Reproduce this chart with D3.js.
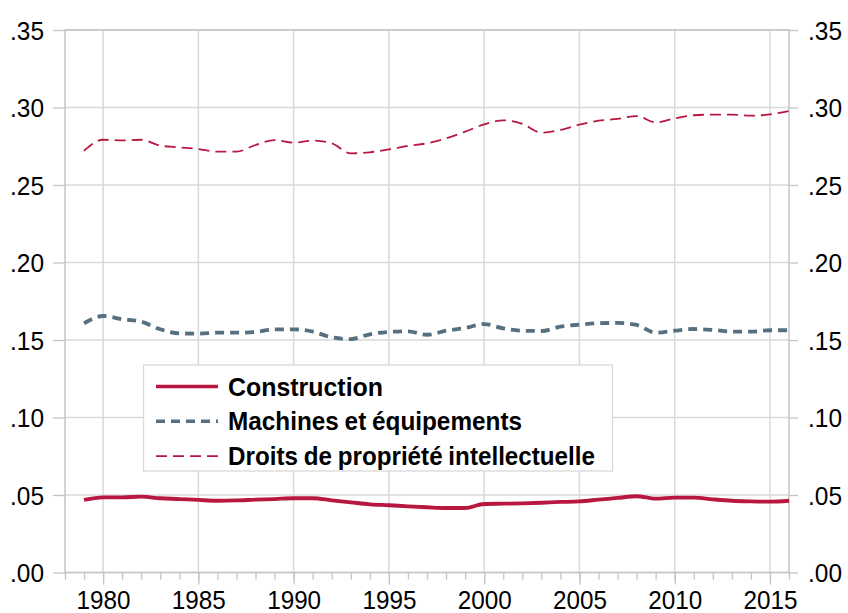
<!DOCTYPE html>
<html>
<head>
<meta charset="utf-8">
<script src="https://cdn.jsdelivr.net/npm/d3@7"></script>
<style>
  html, body { margin: 0; padding: 0; background: #fff; }
  svg { display: block; font-family: "Liberation Sans", Arial, sans-serif; }
</style>
</head>
<body>
<svg id="chart" width="848" height="613"></svg>
<script>
const years = d3.range(1979, 2017);
const construction = [0.0468,0.0485,0.0485,0.0489,0.0479,0.0474,0.0468,0.0463,0.0465,0.0470,
  0.0474,0.0479,0.0479,0.0466,0.0453,0.0440,0.0434,0.0427,0.0421,0.0416,
  0.0416,0.0442,0.0444,0.0446,0.0450,0.0455,0.0459,0.0470,0.0481,0.0492,
  0.0476,0.0483,0.0483,0.0472,0.0463,0.0459,0.0457,0.0463];
const machines = [0.1608,0.1655,0.1634,0.1618,0.1569,0.1543,0.1541,0.1547,0.1547,0.1552,
  0.1569,0.1569,0.1554,0.1517,0.1506,0.1537,0.1552,0.1556,0.1534,0.1560,
  0.1577,0.1603,0.1575,0.1560,0.1558,0.1586,0.1599,0.1608,0.1610,0.1597,
  0.1547,0.1560,0.1571,0.1565,0.1554,0.1554,0.1563,0.1563];
const droits = [0.2721,0.2792,0.2788,0.2792,0.2754,0.2743,0.2732,0.2715,0.2715,0.2758,
  0.2790,0.2773,0.2786,0.2769,0.2704,0.2711,0.2730,0.2752,0.2769,0.2801,
  0.2844,0.2891,0.2917,0.2894,0.2838,0.2855,0.2889,0.2915,0.2926,0.2945,
  0.2904,0.2930,0.2950,0.2954,0.2954,0.2947,0.2956,0.2977];
const yTicks = [0, 0.05, 0.10, 0.15, 0.20, 0.25, 0.30, 0.35];
const xMajorTicks = [1980, 1985, 1990, 1995, 2000, 2005, 2010, 2015];
const xMinorTicks = d3.range(1978, 2017);
const seriesNames = ["Construction", "Machines et équipements", "Droits de propriété intellectuelle"];

const svg = d3.select("#chart");
const L = 65, R = 789, T = 30, B = 572.5;
const x = d3.scaleLinear().domain([1978, 2016]).range([L, R]);
const y = d3.scaleLinear().domain([0, 0.35]).range([B, T]);
const fmt = v => d3.format(".2f")(v).replace(/^0/, "");

const gridColor = "#d9d9d9", frameColor = "#c4c4c4";

// gridlines
svg.append("g").selectAll("line").data(yTicks).join("line")
  .attr("x1", L).attr("x2", R).attr("y1", d => y(d)).attr("y2", d => y(d))
  .attr("stroke", gridColor).attr("stroke-width", 1.5);
svg.append("g").selectAll("line").data(xMajorTicks).join("line")
  .attr("y1", T).attr("y2", B).attr("x1", d => x(d)).attr("x2", d => x(d))
  .attr("stroke", gridColor).attr("stroke-width", 1.5);

// axes
const leftAxis = d3.axisLeft(y).tickValues(yTicks).tickFormat(fmt).tickSize(12).tickPadding(9);
const gl = svg.append("g").attr("transform", `translate(${L},0)`).call(leftAxis);
const rightAxis = d3.axisRight(y).tickValues(yTicks).tickFormat(fmt).tickSize(9).tickPadding(10);
const gr = svg.append("g").attr("transform", `translate(${R},0)`).call(rightAxis);
const bottomMinor = d3.axisBottom(x).tickValues(xMinorTicks).tickFormat("").tickSize(7);
const gbm = svg.append("g").attr("transform", `translate(0,${B})`).call(bottomMinor);
const bottomMajor = d3.axisBottom(x).tickValues(xMajorTicks).tickFormat(d3.format("d")).tickSize(12).tickPadding(7);
const gb = svg.append("g").attr("transform", `translate(0,${B})`).call(bottomMajor);

[gl, gr, gbm, gb].forEach(g => {
  g.select(".domain").remove();
  g.selectAll(".tick line").attr("stroke", frameColor).attr("stroke-width", 1.3);
  g.selectAll(".tick text").attr("fill", "#000").style("font-size", "25px")
    .style("font-family", '"Liberation Sans", Arial, sans-serif')
    .attr("lengthAdjust", "spacingAndGlyphs");
});
gl.selectAll(".tick text").attr("dy", "0.36em").attr("textLength", 34);
gr.selectAll(".tick text").attr("dy", "0.36em").attr("textLength", 34);
gb.selectAll(".tick text").attr("textLength", 54).attr("dy", "0.7em");

// frame
svg.append("rect").attr("x", L).attr("y", T).attr("width", R - L).attr("height", B - T)
  .attr("fill", "none").attr("stroke", frameColor).attr("stroke-width", 1.5);

// lines
const line = vals => d3.line().x((d, i) => x(years[i])).y(d => y(d)).curve(d3.curveMonotoneX)(vals);
const styles = [
  { data: construction, color: "#B8183F", width: 3.8, dash: null },
  { data: machines, color: "#56707F", width: 3.8, dash: "9,6" },
  { data: droits, color: "#B8183F", width: 1.8, dash: "11,6" }
];
styles.forEach(s => {
  svg.append("path").attr("d", line(s.data)).attr("fill", "none")
    .attr("stroke", s.color).attr("stroke-width", s.width)
    .attr("stroke-dasharray", s.dash);
});

// legend
const legendLengths = [155, 294, 367];
const lg = svg.append("g");
lg.append("rect").attr("x", 143.5).attr("y", 365).attr("width", 469).attr("height", 106)
  .attr("fill", "#fff").attr("stroke", "#d9d9d9").attr("stroke-width", 1.3);
styles.forEach((s, i) => {
  const yy = 386.5 + i * 34.8;
  lg.append("line").attr("x1", 156).attr("x2", 218).attr("y1", yy).attr("y2", yy)
    .attr("stroke", s.color).attr("stroke-width", i === 2 ? 1.8 : 3.6)
    .attr("stroke-dasharray", s.dash);
  lg.append("text").attr("x", 228).attr("y", yy).attr("dy", "0.36em")
    .style("font-size", "25px").style("font-weight", "bold")
    .style("word-spacing", "-1px")
    .attr("textLength", legendLengths[i]).attr("lengthAdjust", "spacingAndGlyphs")
    .attr("fill", "#000").text(seriesNames[i]);
});
</script>
</body>
</html>
